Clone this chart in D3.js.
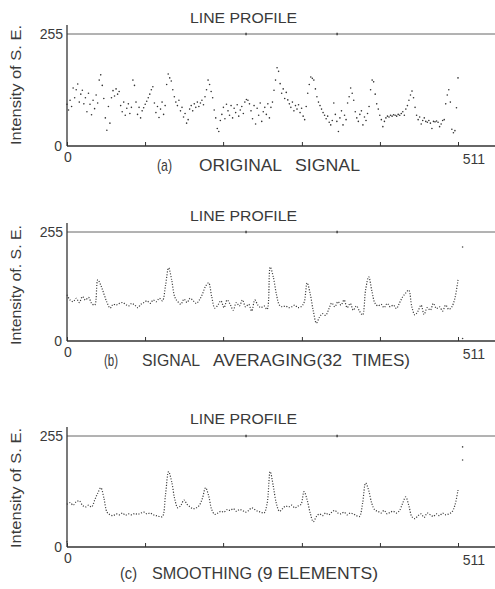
<!DOCTYPE html>
<html>
<head>
<meta charset="utf-8">
<script src="https://cdn.jsdelivr.net/npm/d3@7/dist/d3.min.js"></script>
<style>
  body { margin: 0; background: #fff; }
  text { font-family: "Liberation Sans", Arial, sans-serif; fill: #3a3a3a; }
</style>
</head>
<body>
<script>
// line profile data, 0..511 pixel index, intensity 0..255
var original = [
  95, 82, 104, 90, 132, 110,
  128, 141, 100, 118, 127, 96,
  110, 78, 120, 95, 71, 104, 85, 116, 98,
  150, 162, 138,
  108, 64, 36, 90, 52, 110,
  126, 114, 130, 118, 124,
  92, 78, 100, 70, 86, 96, 74, 88,
  150, 138,
  100, 72, 88, 64, 80,
  87, 95, 102, 110, 118, 128, 135,
  98, 76, 90, 65, 84, 100, 72, 92,
  140, 164, 155, 148, 128,
  112, 100, 92, 104, 80, 88, 66, 74, 52, 60,
  84, 92, 80, 96, 88, 100, 90, 98, 104, 94, 112,
  128, 150, 140, 124, 110,
  82, 64, 40, 33, 58,
  72, 88, 62, 95, 80, 70, 92, 64, 86, 76, 94, 68, 82, 90, 74,
  100, 106, 104, 96,
  80, 62, 92, 50, 86, 70, 98, 56, 78, 88,
  72, 96, 64, 88, 100,
  127, 150, 178, 170, 142, 120,
  130, 108, 122, 105,
  96, 88, 100, 80, 92, 84, 94, 76, 86, 68, 60,
  90, 120,
  140, 157, 154, 150, 130, 112,
  100, 92, 84, 76, 70, 62, 68, 54, 48, 58,
  98, 72, 56, 33, 64, 80, 48, 70, 60,
  98, 112, 132, 120, 104,
  78, 64, 56, 72, 80, 48, 66, 58, 74, 90,
  128, 150, 146, 118,
  96, 84, 70, 60, 44, 56,
  64, 68, 66, 70, 68, 71, 70, 68, 72, 70, 74, 78, 70, 84, 92,
  104, 116, 125,
  110, 88, 70, 60, 66, 50, 58, 64,
  56, 54, 58, 52, 40, 56, 55, 57, 54, 44, 50, 58, 60,
  96, 116, 128, 100,
  38, 30, 35,
  87, 155
];

var averaged = [
  108, 96, 92,
  100, 90, 104, 96, 102, 88,
  84, 143,
  130, 110, 90, 77,
  86, 84, 88, 90, 86, 82, 88, 84, 78,
  86, 90, 94, 88, 96, 92, 100, 94,
  130, 171, 143, 103,
  92, 86, 98, 90, 100, 94, 88, 96,
  110, 128, 136, 104, 77,
  84, 94, 78, 96, 86, 72, 90, 82, 96, 80,
  86, 70, 96, 84, 78, 82,
  74, 173, 150, 110, 84,
  80, 82, 78, 80, 84, 78, 80, 90,
  136, 110, 70, 42,
  56, 64, 60, 74, 89,
  80, 92, 84, 96, 78, 88, 72, 82, 70, 61,
  120, 150, 118, 89,
  82, 86, 78, 88, 80, 84, 76, 89,
  103, 112, 119, 80, 61,
  70, 84, 62, 78, 72, 88, 76, 80, 70, 84, 74, 80,
  100, 143
];

var smoothed = [
  98, 102, 96, 104, 106, 96, 92, 96, 92, 108, 124, 136, 112, 80, 74,
  72, 76, 74, 78, 73, 76, 74, 77, 75, 78, 80, 76, 78, 74, 72, 70,
  70, 120, 173, 150, 110, 90, 96, 108, 98, 92, 88, 90, 96, 112, 136, 118, 86, 75,
  78, 82, 80, 86, 84, 88, 82, 86, 84, 80,
  84, 90, 86, 82, 80, 78,
  100, 173, 140, 100, 82,
  88, 94, 92, 96, 90, 94, 98,
  127, 108, 78, 58,
  70, 76, 72, 78, 74, 80, 84, 78, 76, 80, 74, 78, 76, 72, 70,
  100, 147, 130, 100, 85,
  82, 78, 84, 76, 80, 82, 78, 84,
  100, 115, 96, 70, 65,
  72, 76, 68, 78, 74, 70, 76, 72, 78, 74, 76, 80,
  96, 131
];

// stray dots off the profile: [index, intensity]
var averagedStray = [[517, 220], [517, 6]];
var smoothedStray = [[0, 12], [517, 230], [517, 200]];

var xTicks = [0, 102, 204, 307, 409, 511];
var topMarks = [234, 353];
var yTickLabels = ["0", "255"];

var panels = [
  { values: original, stray: [], dotted: false, top: 34, bottom: 146, titleY: 17, capY: 165, ylab: "Intensity of S. E.", ylabY: 85,
    caption: [["(a)", 157, 172], ["ORIGINAL", 199, 282], ["SIGNAL", 295, 360]] },
  { values: averaged, stray: averagedStray, dotted: true, top: 232, bottom: 341, titleY: 215, capY: 360, ylab: "Intensity of. S. E.", ylabY: 285,
    caption: [["(b)", 104, 118], ["SIGNAL", 142, 200], ["AVERAGING(32", 213, 342], ["TIMES)", 352, 410]] },
  { values: smoothed, stray: smoothedStray, dotted: true, top: 436, bottom: 547, titleY: 418, capY: 573, ylab: "Intensity of S. E.", ylabY: 488,
    caption: [["(c)", 120, 137], ["SMOOTHING", 152, 252], ["(9 ELEMENTS)", 257, 378]] }
];

var W = 495, H = 589;
var left = 67, right511 = 458;

var svg = d3.select("body").append("svg")
  .attr("width", W)
  .attr("height", H);

var x = d3.scaleLinear().domain([0, 511]).range([left, right511]);

panels.forEach(function (p) {
  var g = svg.append("g");
  var y = d3.scaleLinear().domain([0, 255]).range([p.bottom, p.top]);

  // title
  g.append("text")
    .attr("x", 190).attr("y", p.titleY).attr("dy", "0.36em")
    .attr("textLength", 107).attr("lengthAdjust", "spacingAndGlyphs")
    .style("font-size", "15.5px")
    .text("LINE PROFILE");

  // 255 reference line across the top
  g.append("line")
    .attr("x1", left).attr("x2", W)
    .attr("y1", y(255)).attr("y2", y(255))
    .attr("stroke", "#666").attr("stroke-width", 1);
  g.selectAll(".topmark").data(topMarks).enter()
    .append("line")
    .attr("x1", d => x(d)).attr("x2", d => x(d))
    .attr("y1", y(255) - 1.2).attr("y2", y(255) + 1.2)
    .attr("stroke", "#444").attr("stroke-width", 1.5);

  // left axis
  g.append("line")
    .attr("x1", left).attr("x2", left)
    .attr("y1", p.top - 9).attr("y2", p.bottom)
    .attr("stroke", "#333").attr("stroke-width", 1.3);

  g.selectAll(".ylab").data(yTickLabels).enter()
    .append("text")
    .attr("x", d => d === "0" ? left - 5 : left - 4)
    .attr("y", d => y(+d))
    .attr("dy", "0.36em")
    .attr("text-anchor", "end")
    .style("font-size", "14px")
    .text(d => d);

  // bottom axis, ticks pointing up
  var xAxis = d3.axisBottom(x).tickValues(xTicks).tickSize(-4).tickSizeOuter(0).tickFormat("");
  var xa = g.append("g").attr("transform", "translate(0," + p.bottom + ")").call(xAxis);
  xa.select(".domain").remove();
  xa.selectAll(".tick line").attr("stroke", "#333");
  g.append("line")
    .attr("x1", left).attr("x2", W)
    .attr("y1", p.bottom).attr("y2", p.bottom)
    .attr("stroke", "#333").attr("stroke-width", 1.3);

  g.append("text")
    .attr("x", x(0) + 1).attr("y", p.bottom + 11).attr("dy", "0.36em")
    .attr("text-anchor", "middle")
    .style("font-size", "14px")
    .text("0");
  g.append("text")
    .attr("x", x(511) + 16).attr("y", p.bottom + 13).attr("dy", "0.36em")
    .attr("text-anchor", "middle")
    .style("font-size", "14px")
    .text("511");

  // y label
  g.append("text")
    .attr("transform", "translate(21," + p.ylabY + ") rotate(-90)")
    .attr("text-anchor", "middle")
    .attr("textLength", 120).attr("lengthAdjust", "spacingAndGlyphs")
    .style("font-size", "15px")
    .text(p.ylab);

  // caption
  g.selectAll(".cap").data(p.caption).enter()
    .append("text")
    .attr("x", d => d[1]).attr("y", p.capY).attr("dy", "0.36em")
    .attr("textLength", d => d[2] - d[1]).attr("lengthAdjust", "spacingAndGlyphs")
    .style("font-size", "17px")
    .text(d => d[0]);

  // profile
  var n = p.values.length;
  var pts = p.values.map(function (v, i) { return [i * 511 / (n - 1), v]; });
  if (p.dotted) {
    var line = d3.line().x(d => x(d[0])).y(d => y(d[1])).curve(d3.curveCatmullRom);
    g.append("path")
      .datum(pts)
      .attr("d", line)
      .attr("fill", "none")
      .attr("stroke", "#3a3a3a")
      .attr("stroke-width", 1.2)
      .attr("stroke-dasharray", "1.1,1.6");
  } else {
    g.selectAll(".dot").data(pts).enter()
      .append("circle")
      .attr("cx", d => x(d[0]))
      .attr("cy", d => y(d[1]))
      .attr("r", 0.8)
      .attr("fill", "#333");
  }
  g.selectAll(".stray").data(p.stray).enter()
    .append("circle")
    .attr("cx", d => x(d[0]))
    .attr("cy", d => y(d[1]))
    .attr("r", 0.8)
    .attr("fill", "#444");
});
</script>
</body>
</html>
